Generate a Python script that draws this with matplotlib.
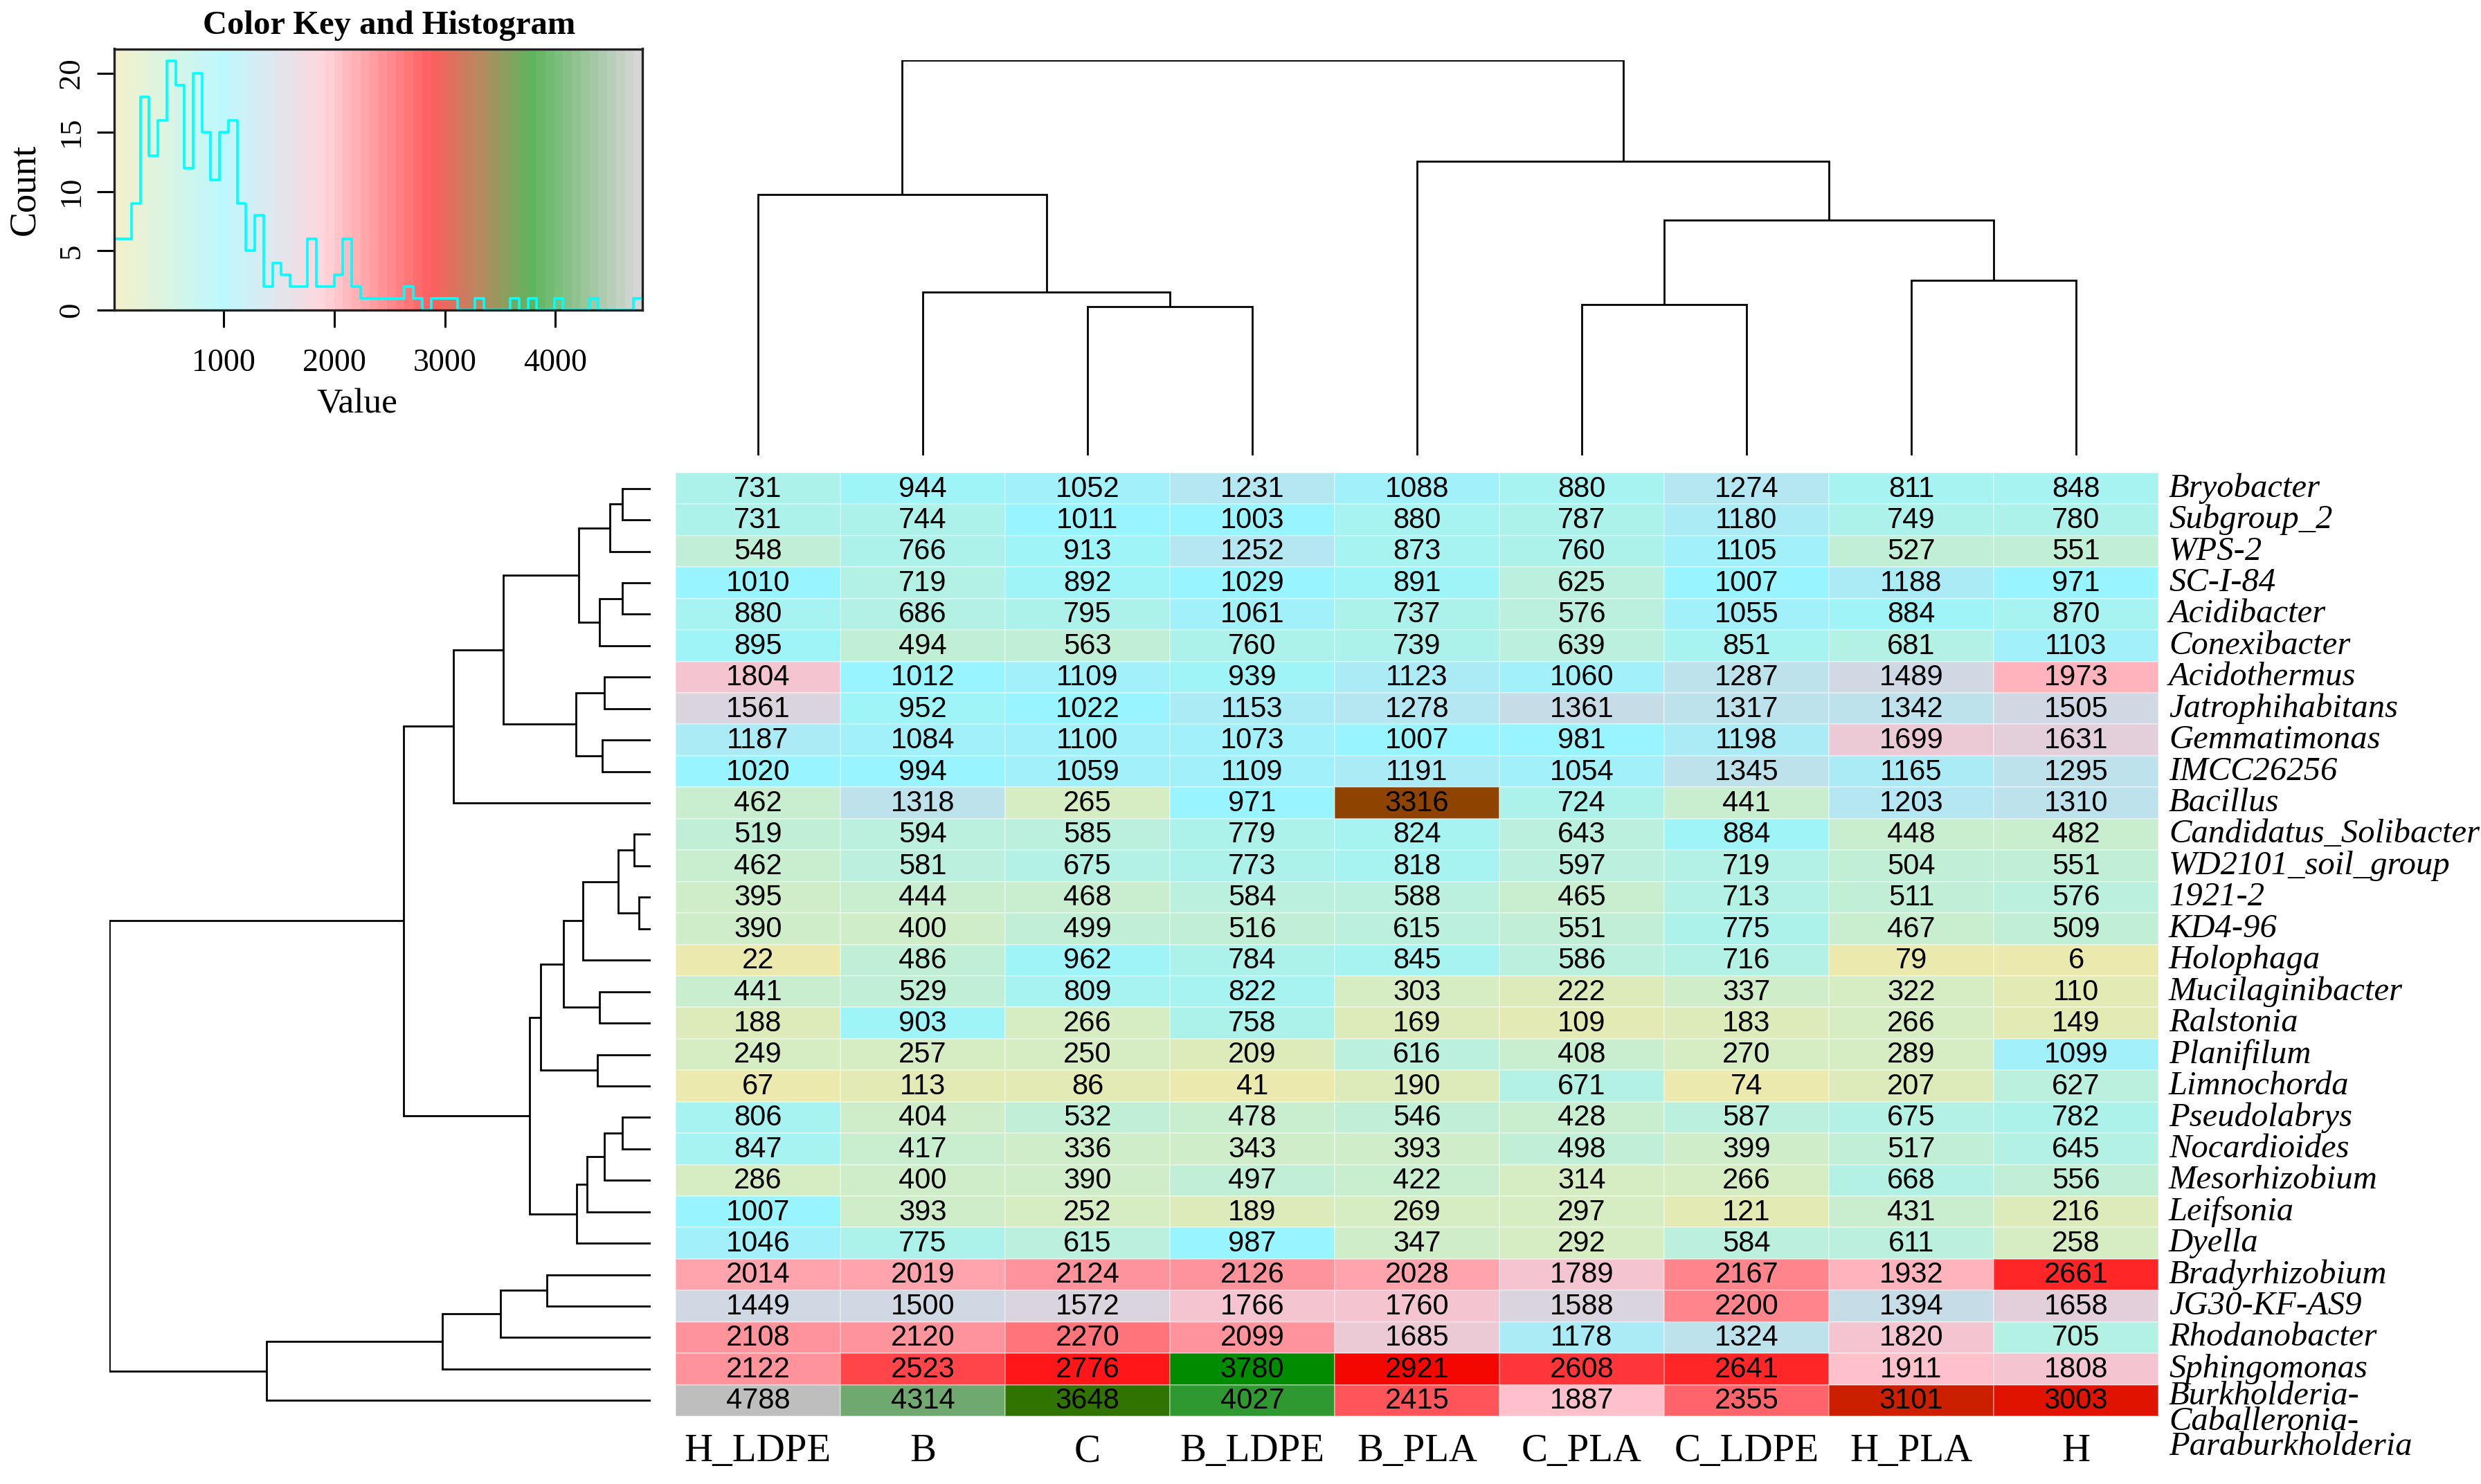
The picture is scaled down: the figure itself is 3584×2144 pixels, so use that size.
import numpy as np
import matplotlib
matplotlib.use("Agg")
import matplotlib.pyplot as plt
from matplotlib.colors import ListedColormap, Normalize, to_rgb

# ---------------- data ----------------
genera = ["Bryobacter", "Subgroup_2", "WPS-2", "SC-I-84", "Acidibacter", "Conexibacter",
          "Acidothermus", "Jatrophihabitans", "Gemmatimonas", "IMCC26256", "Bacillus",
          "Candidatus_Solibacter", "WD2101_soil_group", "1921-2", "KD4-96", "Holophaga",
          "Mucilaginibacter", "Ralstonia", "Planifilum", "Limnochorda", "Pseudolabrys",
          "Nocardioides", "Mesorhizobium", "Leifsonia", "Dyella", "Bradyrhizobium",
          "JG30-KF-AS9", "Rhodanobacter", "Sphingomonas",
          "Burkholderia-\nCaballeronia-\nParaburkholderia"]

samples = ["H_LDPE", "B", "C", "B_LDPE", "B_PLA", "C_PLA", "C_LDPE", "H_PLA", "H"]

abundance = [
    [731, 944, 1052, 1231, 1088, 880, 1274, 811, 848],
    [731, 744, 1011, 1003, 880, 787, 1180, 749, 780],
    [548, 766, 913, 1252, 873, 760, 1105, 527, 551],
    [1010, 719, 892, 1029, 891, 625, 1007, 1188, 971],
    [880, 686, 795, 1061, 737, 576, 1055, 884, 870],
    [895, 494, 563, 760, 739, 639, 851, 681, 1103],
    [1804, 1012, 1109, 939, 1123, 1060, 1287, 1489, 1973],
    [1561, 952, 1022, 1153, 1278, 1361, 1317, 1342, 1505],
    [1187, 1084, 1100, 1073, 1007, 981, 1198, 1699, 1631],
    [1020, 994, 1059, 1109, 1191, 1054, 1345, 1165, 1295],
    [462, 1318, 265, 971, 3316, 724, 441, 1203, 1310],
    [519, 594, 585, 779, 824, 643, 884, 448, 482],
    [462, 581, 675, 773, 818, 597, 719, 504, 551],
    [395, 444, 468, 584, 588, 465, 713, 511, 576],
    [390, 400, 499, 516, 615, 551, 775, 467, 509],
    [22, 486, 962, 784, 845, 586, 716, 79, 6],
    [441, 529, 809, 822, 303, 222, 337, 322, 110],
    [188, 903, 266, 758, 169, 109, 183, 266, 149],
    [249, 257, 250, 209, 616, 408, 270, 289, 1099],
    [67, 113, 86, 41, 190, 671, 74, 207, 627],
    [806, 404, 532, 478, 546, 428, 587, 675, 782],
    [847, 417, 336, 343, 393, 498, 399, 517, 645],
    [286, 400, 390, 497, 422, 314, 266, 668, 556],
    [1007, 393, 252, 189, 269, 297, 121, 431, 216],
    [1046, 775, 615, 987, 347, 292, 584, 611, 258],
    [2014, 2019, 2124, 2126, 2028, 1789, 2167, 1932, 2661],
    [1449, 1500, 1572, 1766, 1760, 1588, 2200, 1394, 1658],
    [2108, 2120, 2270, 2099, 1685, 1178, 1324, 1820, 705],
    [2122, 2523, 2776, 3780, 2921, 2608, 2641, 1911, 1808],
    [4788, 4314, 3648, 4027, 2415, 1887, 2355, 3101, 3003],
]

# dendrogram merges: (child a, child b, height); leaves 0..n-1, new nodes n, n+1, ...
row_merges = [
    (0, 1, 73), (30, 2, 105), (3, 4, 73), (32, 5, 131), (31, 33, 185),
    (6, 7, 119), (8, 9, 125), (35, 36, 192), (34, 37, 380), (38, 10, 507),
    (11, 12, 43), (13, 14, 31), (40, 41, 84), (42, 15, 175), (16, 17, 131),
    (43, 44, 225), (18, 19, 138), (45, 46, 283), (20, 21, 73), (48, 22, 119),
    (49, 23, 164), (50, 24, 190), (47, 51, 311), (39, 52, 636), (25, 26, 267),
    (54, 27, 387), (55, 28, 537), (56, 29, 989), (53, 57, 1393),
]
col_merges = [
    (2, 3, 536), (1, 9, 587), (0, 10, 939), (5, 6, 544), (7, 8, 629),
    (12, 13, 847), (4, 14, 1058), (11, 15, 1422),
]

n_bins = 60
anchor_values = [6, 1000, 1890, 2870, 3330, 3790, 4740]
anchor_colors = ["#EEE8AA", "#98F5FF", "#FFC0CB", "#FF0000", "#8B4500", "#008B00", "#BEBEBE"]

# ---------------- derived ----------------
vals = np.array(abundance, dtype=float)
nrow, ncol = vals.shape
breaks = np.linspace(vals.min(), vals.max(), n_bins + 1)
mids = 0.5 * (breaks[:-1] + breaks[1:])
rgb = np.array([to_rgb(c) for c in anchor_colors])
bin_colors = np.column_stack([np.interp(mids, anchor_values, rgb[:, k]) for k in range(3)])
cmap = ListedColormap(bin_colors)
norm = Normalize(vmin=-0.5, vmax=n_bins - 0.5)
bin_idx = np.clip(np.searchsorted(breaks, vals, side="left") - 1, 0, n_bins - 1)
counts = np.bincount(bin_idx.ravel(), minlength=n_bins)

W, H = 3584, 2144
fig = plt.figure(figsize=(W / 200, H / 200), dpi=200)


def fax(x0, y0, x1, y1):
    """axes from pixel box (top-left origin)"""
    return fig.add_axes([x0 / W, 1 - y1 / H, (x1 - x0) / W, (y1 - y0) / H])


serif = "Liberation Serif"
sans = "Liberation Sans"

# ---------------- heatmap ----------------
ax = fax(976, 683, 3118, 2046)
ax.pcolormesh(np.arange(ncol + 1), np.arange(nrow + 1), bin_idx, cmap=cmap, norm=norm,
              edgecolors=(1, 1, 1, 0.35), linewidth=0.6)
ax.set_xlim(0, ncol)
ax.set_ylim(nrow, 0)
for i in range(nrow):
    for j in range(ncol):
        ax.text(j + 0.5, i + 0.52, f"{int(vals[i, j])}", ha="center", va="center",
                fontsize=15, family=sans, color="black")
for s in ax.spines.values():
    s.set_visible(False)
ax.set_xticks(np.arange(ncol) + 0.5)
ax.set_xticklabels(samples, fontsize=20.5, family=serif)
ax.tick_params(axis="x", length=0, pad=9)
ax.set_yticks([])
for i, g in enumerate(genera):
    if "\n" in g:
        ax.text(1.007, i + 0.5 - 0.62, g, transform=ax.get_yaxis_transform(), ha="left",
                va="top", fontsize=17.5, family=serif, style="italic", linespacing=0.78)
    else:
        ax.text(1.007, i + 0.5, g, transform=ax.get_yaxis_transform(), ha="left",
                va="center", fontsize=17.5, family=serif, style="italic")


def draw_dendro(a, merges, n_leaves, orient):
    pos = {i: i + 0.5 for i in range(n_leaves)}
    hgt = {i: 0.0 for i in range(n_leaves)}
    for k, (c1, c2, h) in enumerate(merges):
        node = n_leaves + k
        p = [pos[c1], pos[c1], pos[c2], pos[c2]]
        q = [hgt[c1], h, h, hgt[c2]]
        if orient == "top":
            a.plot(p, q, color="black", lw=1.0, solid_capstyle="butt", solid_joinstyle="miter")
        else:
            a.plot(q, p, color="black", lw=1.0, solid_capstyle="butt", solid_joinstyle="miter")
        pos[node] = 0.5 * (pos[c1] + pos[c2])
        hgt[node] = h
    return max(m[2] for m in merges)


# ---------------- column dendrogram ----------------
axc = fax(976, 87, 3118, 658)
top = draw_dendro(axc, col_merges, ncol, "top")
axc.set_xlim(0, ncol)
axc.set_ylim(0, top)
axc.axis("off")

# ---------------- row dendrogram ----------------
axr = fax(158, 683, 940, 2046)
top = draw_dendro(axr, row_merges, nrow, "left")
axr.set_xlim(top, 0)
axr.set_ylim(nrow, 0)
axr.axis("off")

# ---------------- color key ----------------
axk = fax(164.5, 70.5, 928, 448)
ymax = counts.max() * 1.05
axk.pcolormesh(breaks, [0, ymax], np.arange(n_bins)[None, :], cmap=cmap, norm=norm, alpha=0.63)
axk.step(breaks, np.append(counts, counts[-1]), where="post", color="cyan", lw=1.3)
axk.set_xlim(breaks[0], breaks[-1])
axk.set_ylim(0, ymax)
axk.set_xticks([1000, 2000, 3000, 4000])
axk.set_xticklabels(["1000", "2000", "3000", "4000"], fontsize=16.5, family=serif)
axk.set_yticks([0, 5, 10, 15, 20])
axk.set_yticklabels(["0", "5", "10", "15", "20"], fontsize=16, family=serif,
                    rotation=90, va="center")
axk.tick_params(axis="both", length=9, width=1.1, direction="out")
axk.tick_params(axis="x", pad=11)
axk.tick_params(axis="y", pad=6)
for s in axk.spines.values():
    s.set_linewidth(1.2)
    s.set_color("#222222")
axk.set_xlabel("Value", fontsize=18.5, family=serif)
axk.xaxis.set_label_coords(0.46, -0.36)
axk.xaxis.label.set_va("center")
axk.set_ylabel("Count", fontsize=19.5, family=serif)
axk.yaxis.set_label_coords(-0.168, 0.46)
axk.yaxis.label.set_va("center")
fig.text(562 / W, 1 - 49 / H, "Color Key and Histogram", ha="center", va="baseline",
         fontsize=17.5, family=serif, weight="bold")

fig.savefig("out.png", dpi=200)
